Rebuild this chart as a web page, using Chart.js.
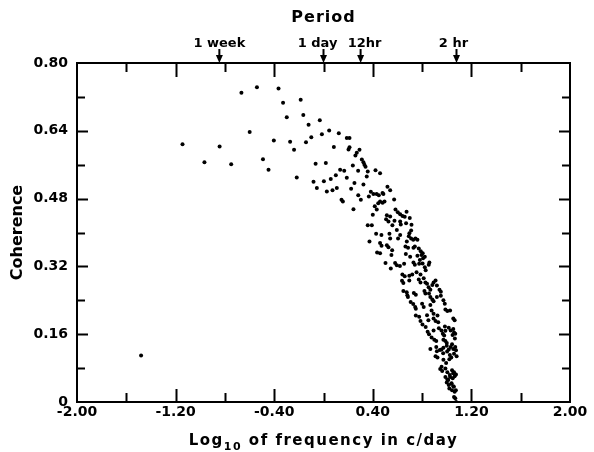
<!DOCTYPE html>
<html>
<head>
<meta charset="utf-8">
<script src="https://cdn.jsdelivr.net/npm/chart.js@4.4.1/dist/chart.umd.min.js"></script>
<style>
  body { margin: 0; background: #fff; }
  canvas { display: block; }
</style>
</head>
<body>
<canvas id="coherenceChart" width="594" height="452"></canvas>
<script>
// [log10 frequency (c/day), coherence]
const sparsePoints = [
  [-1.48, 0.11],
  [-1.144, 0.608], [-0.966, 0.566], [-0.843, 0.603], [-0.749, 0.561],
  [-0.666, 0.730], [-0.599, 0.637], [-0.540, 0.743], [-0.491, 0.573],
  [-0.446, 0.548], [-0.403, 0.617], [-0.365, 0.740], [-0.328, 0.706],
  [-0.298, 0.672], [-0.271, 0.614], [-0.239, 0.595], [-0.217, 0.530],
  [-0.185, 0.713], [-0.164, 0.677], [-0.142, 0.613], [-0.121, 0.654],
  [-0.099, 0.625], [-0.081, 0.520], [-0.064, 0.562], [-0.030, 0.665],
  [-0.013, 0.632], [0.003, 0.521], [0.019, 0.564], [0.046, 0.641]
];

const upperBand = [
  [0.124, 0.634], [0.189, 0.623], [0.211, 0.623], [0.084, 0.602], [0.211, 0.601],
  [0.203, 0.596], [0.270, 0.588], [0.292, 0.595], [0.259, 0.582], [0.311, 0.572],
  [0.324, 0.566], [0.332, 0.560], [0.341, 0.555], [0.238, 0.558], [0.135, 0.548],
  [0.168, 0.546], [0.281, 0.546], [0.359, 0.544], [0.422, 0.547], [0.459, 0.540],
  [0.059, 0.526], [0.100, 0.535], [0.189, 0.529], [0.351, 0.532], [0.251, 0.517],
  [0.324, 0.513], [-0.054, 0.505], [0.027, 0.497], [0.073, 0.500], [0.108, 0.505],
  [0.224, 0.503], [0.146, 0.477], [0.157, 0.473], [0.303, 0.477], [0.384, 0.496],
  [0.405, 0.491], [0.449, 0.488], [0.486, 0.491], [0.519, 0.508], [0.541, 0.500],
  [0.368, 0.485], [0.459, 0.473], [0.495, 0.473], [0.573, 0.478], [0.282, 0.488],
  [0.431, 0.491], [0.479, 0.493], [0.444, 0.469], [0.479, 0.470]
];

const middleBand = [
  [0.416, 0.462], [0.432, 0.454], [0.243, 0.455], [0.400, 0.442], [0.514, 0.441],
  [0.541, 0.438], [0.584, 0.454], [0.603, 0.448], [0.622, 0.443], [0.641, 0.439],
  [0.659, 0.437], [0.508, 0.431], [0.527, 0.426], [0.576, 0.428], [0.622, 0.426],
  [0.627, 0.419], [0.670, 0.422], [0.359, 0.417], [0.392, 0.417], [0.559, 0.417],
  [0.595, 0.406], [0.711, 0.405], [0.697, 0.398], [0.692, 0.391], [0.711, 0.386],
  [0.427, 0.397], [0.470, 0.394], [0.535, 0.397], [0.541, 0.386], [0.622, 0.394],
  [0.605, 0.386], [0.746, 0.386], [0.762, 0.383], [0.373, 0.379], [0.459, 0.375],
  [0.514, 0.370], [0.527, 0.365], [0.676, 0.379], [0.665, 0.367], [0.730, 0.364],
  [0.773, 0.362], [0.789, 0.356], [0.805, 0.351], [0.435, 0.353], [0.459, 0.351],
  [0.557, 0.358], [0.686, 0.364], [0.762, 0.345], [0.822, 0.343], [0.551, 0.347],
  [0.668, 0.349], [0.703, 0.343], [0.503, 0.328], [0.581, 0.328], [0.595, 0.323],
  [0.654, 0.326], [0.730, 0.329], [0.741, 0.324], [0.776, 0.326], [0.854, 0.324],
  [0.859, 0.329], [0.546, 0.315], [0.674, 0.449], [0.700, 0.434], [0.714, 0.418],
  [0.728, 0.383], [0.741, 0.367], [0.795, 0.347], [0.808, 0.339], [0.782, 0.335],
  [0.804, 0.327], [0.822, 0.318], [0.620, 0.321], [0.471, 0.369]
];

const lowerBand = [
  [0.640, 0.301], [0.659, 0.297], [0.696, 0.298], [0.720, 0.301], [0.755, 0.306],
  [0.787, 0.301], [0.829, 0.311], [0.637, 0.286], [0.648, 0.281], [0.696, 0.287],
  [0.773, 0.289], [0.787, 0.282], [0.813, 0.292], [0.827, 0.282], [0.840, 0.279],
  [0.853, 0.271], [0.867, 0.265], [0.883, 0.276], [0.893, 0.282], [0.909, 0.287],
  [0.920, 0.275], [0.941, 0.265], [0.952, 0.260], [0.648, 0.262], [0.675, 0.259],
  [0.680, 0.252], [0.685, 0.248], [0.733, 0.257], [0.749, 0.253], [0.819, 0.262],
  [0.827, 0.256], [0.856, 0.256], [0.867, 0.248], [0.883, 0.242], [0.893, 0.238],
  [0.920, 0.248], [0.952, 0.251], [0.973, 0.240], [0.984, 0.232], [0.707, 0.236],
  [0.728, 0.231], [0.744, 0.224], [0.749, 0.220], [0.800, 0.232], [0.813, 0.224],
  [0.867, 0.229], [0.877, 0.216], [0.893, 0.208], [0.925, 0.204], [0.893, 0.197],
  [0.909, 0.191], [0.931, 0.188], [0.989, 0.218], [1.005, 0.215], [1.027, 0.216],
  [1.053, 0.197], [1.064, 0.193], [0.749, 0.204], [0.776, 0.201], [0.787, 0.191],
  [0.803, 0.183], [0.840, 0.205], [0.851, 0.193], [0.829, 0.177], [0.845, 0.166],
  [0.856, 0.160], [0.893, 0.169], [0.936, 0.174], [0.957, 0.169], [0.968, 0.161],
  [0.979, 0.157], [0.989, 0.168], [1.016, 0.175], [1.032, 0.169], [1.053, 0.172],
  [1.059, 0.164], [1.069, 0.161], [0.877, 0.152], [0.899, 0.147], [0.915, 0.144],
  [0.973, 0.147], [0.989, 0.144], [1.000, 0.139], [0.867, 0.125], [0.915, 0.130],
  [0.920, 0.120], [0.957, 0.124], [0.973, 0.128], [1.000, 0.133], [1.016, 0.124],
  [1.032, 0.130], [1.043, 0.136], [1.053, 0.125], [1.069, 0.130], [1.075, 0.122],
  [1.059, 0.114], [1.080, 0.108], [0.909, 0.108], [0.925, 0.105], [0.973, 0.100],
  [0.995, 0.092], [1.021, 0.101], [1.037, 0.105], [0.947, 0.078], [0.963, 0.073],
  [0.989, 0.079], [1.005, 0.070], [1.043, 0.075], [1.059, 0.070], [1.075, 0.065],
  [0.989, 0.059], [1.005, 0.053], [1.027, 0.059], [1.048, 0.056], [1.064, 0.061],
  [1.000, 0.046], [1.016, 0.040], [1.037, 0.043], [1.053, 0.037], [1.021, 0.032],
  [1.043, 0.028], [1.064, 0.024], [1.059, 0.012], [1.069, 0.009], [1.076, 0.000],
  [0.985, 0.178], [1.047, 0.158], [1.066, 0.150], [0.944, 0.123], [0.971, 0.115],
  [1.003, 0.119], [1.025, 0.111], [0.958, 0.083], [1.025, 0.064], [1.052, 0.068],
  [1.012, 0.052], [1.039, 0.044], [1.058, 0.036], [1.074, 0.028]
];

// period markers along the top (log10 of c/day)
const periodLabels = ['1 week', '1 day', '12hr', '2 hr'];
const periodValues = [-0.845, 0, 0.301, 1.079];
const periodLabelShift = [0, -6, 4, -3];

const allPoints = sparsePoints.concat(upperBand, middleBand, lowerBand)
  .map(p => ({ x: p[0], y: p[1] }));

const tickFont = { family: 'DejaVu Sans', size: 14, weight: 'bold' };

// box with inward ticks on all four sides, period arrows, x title
const frameAndMarkers = {
  id: 'frameAndMarkers',
  afterDatasetsDraw(chart) {
    const { ctx, chartArea: a, scales: { x, y } } = chart;
    ctx.save();
    ctx.strokeStyle = '#000';
    ctx.fillStyle = '#000';
    ctx.lineWidth = 2;
    ctx.strokeRect(a.left, a.top, a.right - a.left, a.bottom - a.top);

    ctx.beginPath();
    x.ticks.forEach((t, i) => {
      if (i === 0 || i === x.ticks.length - 1) return;
      const px = Math.round(x.getPixelForValue(t.value)) + 0.5;
      const bot = i % 2 === 0 ? 13 : 9;
      const top = i % 2 === 0 ? 14 : 9;
      ctx.moveTo(px, a.bottom); ctx.lineTo(px, a.bottom - bot);
      ctx.moveTo(px, a.top); ctx.lineTo(px, a.top + top);
    });
    y.ticks.forEach((t, i) => {
      if (i === 0 || i === y.ticks.length - 1) return;
      const py = Math.round(y.getPixelForValue(t.value)) + 0.5;
      const len = i % 2 === 0 ? 11 : 8;
      ctx.moveTo(a.left, py); ctx.lineTo(a.left + len, py);
      ctx.moveTo(a.right, py); ctx.lineTo(a.right - len, py);
    });
    ctx.stroke();

    // period arrows
    ctx.font = 'bold 13px "DejaVu Sans"';
    ctx.textAlign = 'center';
    ctx.textBaseline = 'alphabetic';
    periodValues.forEach((v, i) => {
      const px = x.getPixelForValue(v);
      ctx.beginPath();
      ctx.moveTo(px, a.top - 14);
      ctx.lineTo(px, a.top - 6);
      ctx.stroke();
      ctx.beginPath();
      ctx.moveTo(px - 3.5, a.top - 8);
      ctx.lineTo(px + 3.5, a.top - 8);
      ctx.lineTo(px, a.top);
      ctx.closePath();
      ctx.fill();
      ctx.fillText(periodLabels[i], px + periodLabelShift[i], a.top - 16);
    });

    ctx.letterSpacing = '1px';
    ctx.font = 'bold 16px "DejaVu Sans"';
    ctx.fillText('Period', (a.left + a.right) / 2, 22);

    // x title with subscript
    ctx.letterSpacing = '1.5px';
    ctx.textAlign = 'left';
    const big = 'bold 15px "DejaVu Sans"';
    const small = 'bold 11px "DejaVu Sans"';
    const p1 = 'Log', p2 = '10', p3 = ' of frequency in c/day';
    ctx.font = big; const w1 = ctx.measureText(p1).width, w3 = ctx.measureText(p3).width;
    ctx.font = small; const w2 = ctx.measureText(p2).width;
    let tx = (a.left + a.right) / 2 - (w1 + w2 + w3) / 2;
    const base = 445;
    ctx.font = big; ctx.fillText(p1, tx, base); tx += w1;
    ctx.font = small; ctx.fillText(p2, tx, base + 5); tx += w2;
    ctx.font = big; ctx.fillText(p3, tx, base);
    ctx.restore();
  }
};

new Chart(document.getElementById('coherenceChart'), {
  type: 'scatter',
  data: {
    datasets: [{
      data: allPoints,
      pointRadius: 2,
      pointHoverRadius: 2,
      backgroundColor: '#000',
      borderWidth: 0
    }]
  },
  options: {
    responsive: false,
    devicePixelRatio: 1,
    animation: false,
    layout: { padding: { top: 63, right: 24, left: 0, bottom: 0 } },
    plugins: { legend: { display: false }, tooltip: { enabled: false } },
    scales: {
      x: {
        type: 'linear',
        min: -2, max: 2,
        grid: { display: false, drawTicks: false },
        border: { display: false },
        ticks: {
          stepSize: 0.4,
          autoSkip: false,
          maxRotation: 0,
          padding: 2,
          color: '#000',
          font: tickFont,
          callback: (v, i) => (i % 2 === 0 ? v.toFixed(2) : '')
        },
        afterFit: s => { s.height = 50; }
      },
      y: {
        min: 0, max: 0.8,
        grid: { display: false, drawTicks: false },
        border: { display: false },
        ticks: {
          stepSize: 0.08,
          autoSkip: false,
          padding: 9,
          color: '#000',
          font: tickFont,
          callback: (v, i) => (i === 0 ? '0' : (i % 2 === 0 ? v.toFixed(2) : ''))
        },
        title: {
          display: true,
          text: 'Coherence',
          color: '#000',
          font: { family: 'DejaVu Sans', size: 16, weight: 'bold' },
          padding: { top: 8, bottom: 0 }
        },
        afterFit: s => { s.width = 77; }
      }
    }
  },
  plugins: [frameAndMarkers]
});
</script>
</body>
</html>
